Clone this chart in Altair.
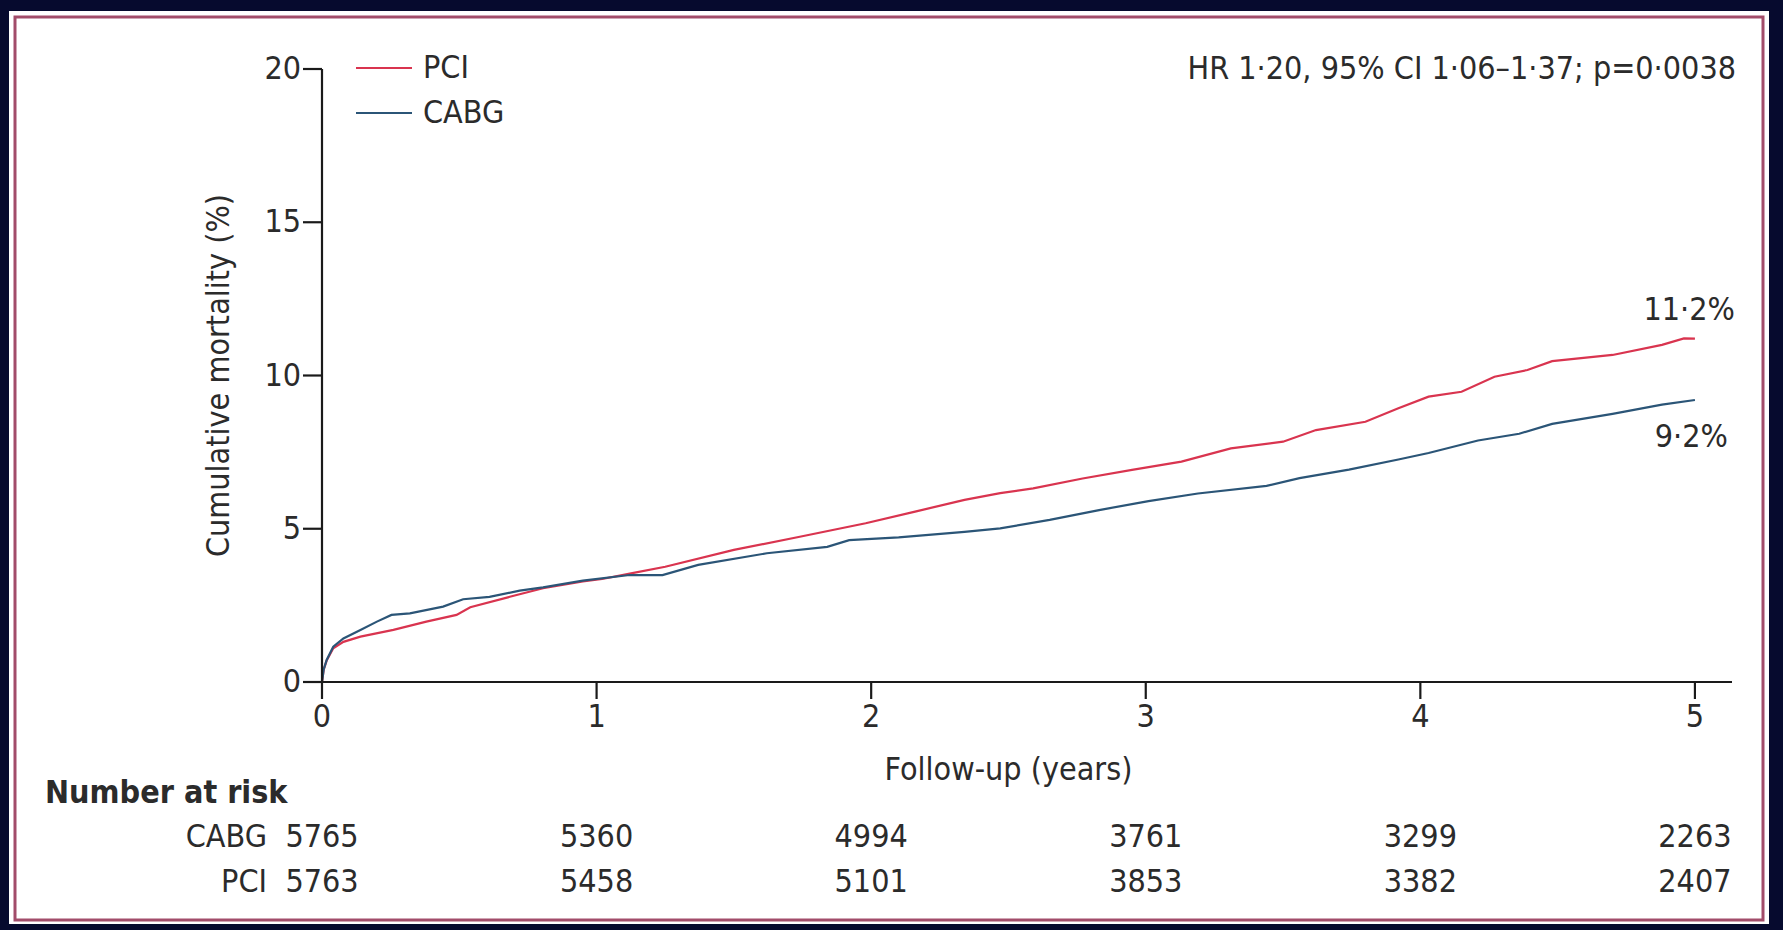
import altair as alt
import pandas as pd

# Kaplan-Meier style cumulative mortality (%) by follow-up year
pci_years = [0, 0.006, 0.017, 0.041, 0.078, 0.14, 0.26, 0.38, 0.49, 0.54, 0.684, 0.805,
             0.95, 1.02, 1.13, 1.25, 1.50, 1.74, 1.98, 2.16, 2.34, 2.47, 2.59, 2.77,
             2.95, 3.13, 3.31, 3.50, 3.62, 3.80, 3.92, 4.03, 4.15, 4.27, 4.39, 4.48,
             4.70, 4.88, 4.96, 5.0]
pci_mort = [0, 0.4, 0.7, 1.1, 1.31, 1.48, 1.70, 1.97, 2.19, 2.44, 2.78, 3.06,
            3.28, 3.36, 3.55, 3.76, 4.31, 4.74, 5.18, 5.56, 5.94, 6.16, 6.32, 6.64,
            6.92, 7.19, 7.62, 7.84, 8.22, 8.49, 8.93, 9.31, 9.47, 9.96, 10.18, 10.47,
            10.67, 11.0, 11.21, 11.2]

cabg_years = [0, 0.006, 0.017, 0.041, 0.078, 0.14, 0.2, 0.253, 0.32, 0.441, 0.514, 0.61,
              0.72, 0.805, 0.95, 1.12, 1.24, 1.37, 1.62, 1.84, 1.92, 2.1, 2.34, 2.47,
              2.65, 2.83, 3.01, 3.19, 3.44, 3.56, 3.74, 3.92, 4.03, 4.21, 4.36, 4.48,
              4.70, 4.88, 5.0]
cabg_mort = [0, 0.4, 0.72, 1.15, 1.42, 1.70, 1.97, 2.19, 2.24, 2.46, 2.70, 2.78,
             2.98, 3.09, 3.31, 3.49, 3.49, 3.82, 4.20, 4.41, 4.63, 4.72, 4.90, 5.01,
             5.29, 5.61, 5.90, 6.15, 6.40, 6.65, 6.93, 7.26, 7.47, 7.88, 8.10, 8.42,
             8.75, 9.05, 9.2]

# axis ticks
x_ticks = [0, 1, 2, 3, 4, 5]
y_ticks = [0, 5, 10, 15, 20]

# Number at risk table
risk_years = [0, 1, 2, 3, 4, 5]
risk_cabg = [5765, 5360, 4994, 3761, 3299, 2263]
risk_pci = [5763, 5458, 5101, 3853, 3382, 2407]

pci_final = "11·2%"
cabg_final = "9·2%"
hr_text = "HR 1·20, 95% CI 1·06–1·37; p=0·0038"

FONT = "Liberation Sans Narrow, DejaVu Sans Condensed, sans-serif"
INK = "#2b2b2b"
AXIS = "#1a1a1a"
RED = "#d9344f"
BLUE = "#2b5577"
NAVY = "#060a2e"
FS = 32

W, H = 1410, 613
XMAX = 5.135

curves = pd.concat([
    pd.DataFrame({"year": pci_years, "mort": pci_mort, "group": "PCI"}),
    pd.DataFrame({"year": cabg_years, "mort": cabg_mort, "group": "CABG"}),
])

xs = alt.Scale(domain=[0, XMAX], nice=False, zero=False)
ys = alt.Scale(domain=[0, 20], nice=False)
cs = alt.Scale(domain=["PCI", "CABG"], range=[RED, BLUE])
one = pd.DataFrame({"k": [0]})


def X(field):
    return alt.X(field, scale=xs, axis=None)


def Y(field):
    return alt.Y(field, scale=ys, axis=None)


def txt(**kw):
    base = dict(font=FONT, fontSize=FS, color=INK, clip=False)
    base.update(kw)
    return base


def label(text, x, y, **kw):
    return alt.Chart(pd.DataFrame({"t": [text]})).mark_text(**txt(**kw)).encode(
        x=x, y=y, text="t:N")


def band(x1, x2, y1, y2):
    # navy surround, in plot-area pixel offsets
    return alt.Chart(one).mark_rect(fill=NAVY, clip=False).encode(
        x=alt.value(x1), x2=alt.value(x2), y=alt.value(y1), y2=alt.value(y2))


surround = [
    band(-330, -313, -80, 870),   # left
    band(1447, 1470, -80, 870),   # right
    band(-330, 1470, -80, -58),   # top
    band(-330, 1470, 855, 870),   # bottom
]
frame = alt.Chart(one).mark_rect(
    fill=None, stroke="#a24c6a", strokeWidth=3, clip=False
).encode(x=alt.value(-307), x2=alt.value(1441), y=alt.value(-52), y2=alt.value(851))

# axes
ydf = pd.DataFrame({"v": y_ticks})
xdf = pd.DataFrame({"v": x_ticks})
y_domain = alt.Chart(pd.DataFrame({"a": [y_ticks[0]], "b": [y_ticks[-1]]})).mark_rule(
    color=AXIS, strokeWidth=2.2, clip=False
).encode(x=alt.value(0), y=Y("a:Q"), y2="b:Q")
x_domain = alt.Chart(one).mark_rule(color=AXIS, strokeWidth=2.2, clip=False).encode(
    x=alt.value(-1), x2=alt.value(W), y=alt.value(H))
y_tickmarks = alt.Chart(ydf).mark_rule(color=AXIS, strokeWidth=2.2, clip=False).encode(
    y=Y("v:Q"), x=alt.value(-19), x2=alt.value(0))
x_tickmarks = alt.Chart(xdf).mark_rule(color=AXIS, strokeWidth=2.2, clip=False).encode(
    x=X("v:Q"), y=alt.value(H), y2=alt.value(H + 17))
y_labels = alt.Chart(ydf).mark_text(**txt(align="right", baseline="middle")).encode(
    y=Y("v:Q"), x=alt.value(-21), text="v:Q")
x_labels = alt.Chart(xdf).mark_text(**txt(align="center", baseline="middle")).encode(
    x=X("v:Q"), y=alt.value(H + 35), text="v:Q")

lines = alt.Chart(curves).mark_line(strokeWidth=2.2, interpolate="linear").encode(
    x=X("year:Q"),
    y=Y("mort:Q"),
    color=alt.Color("group:N", scale=cs, legend=None),
    detail="group:N",
)

end_pci = alt.Chart(pd.DataFrame({"x": [5], "y": [pci_mort[-1]], "t": [pci_final]})).mark_text(
    **txt(align="right", baseline="middle", dx=40, dy=-29)
).encode(x=X("x:Q"), y=Y("y:Q"), text="t:N")
end_cabg = alt.Chart(pd.DataFrame({"x": [5], "y": [cabg_mort[-1]], "t": [cabg_final]})).mark_text(
    **txt(align="right", baseline="middle", dx=33, dy=37)
).encode(x=X("x:Q"), y=Y("y:Q"), text="t:N")

hr = label(hr_text, alt.value(1414), alt.value(0), align="right", baseline="middle")

# legend
legend_layers = []
for grp, ly, col in [("PCI", -1, RED), ("CABG", 44, BLUE)]:
    legend_layers.append(
        alt.Chart(one).mark_rule(strokeWidth=2, color=col, clip=False).encode(
            x=alt.value(34), x2=alt.value(90), y=alt.value(ly)))
    legend_layers.append(label(grp, alt.value(101), alt.value(ly),
                               align="left", baseline="middle"))

ytitle = alt.Chart(pd.DataFrame({"y": [10], "t": ["Cumulative mortality (%)"]})).mark_text(
    **txt(angle=270, align="center", baseline="middle")
).encode(x=alt.value(-103), y=Y("y:Q"), text="t:N")

xtitle = alt.Chart(pd.DataFrame({"x": [2.5], "t": ["Follow-up (years)"]})).mark_text(
    **txt(align="center", baseline="middle")
).encode(x=X("x:Q"), y=alt.value(701), text="t:N")

# number at risk table
risk_head = label("Number at risk", alt.value(-277), alt.value(724),
                  align="left", baseline="middle", fontWeight="bold")
risk_layers = []
for grp, counts, ry in [("CABG", risk_cabg, 768), ("PCI", risk_pci, 813)]:
    risk_layers.append(
        alt.Chart(pd.DataFrame({"x": risk_years, "n": counts})).mark_text(
            **txt(align="center", baseline="middle")
        ).encode(x=X("x:Q"), y=alt.value(ry), text="n:Q"))
    risk_layers.append(label(grp, alt.value(-55), alt.value(ry),
                             align="right", baseline="middle"))

chart = alt.layer(
    lines, y_domain, x_domain, y_tickmarks, x_tickmarks, y_labels, x_labels,
    end_pci, end_cabg, hr, *legend_layers,
    ytitle, xtitle, risk_head, *risk_layers, *surround, frame,
).properties(
    width=W, height=H,
    autosize=alt.AutoSizeParams(type="none"),
    padding={"left": 322, "top": 69, "right": 51, "bottom": 248},
    background="white",
).configure_view(stroke=None)

chart.save("out.html", embed_options={"renderer": "svg", "actions": False})
